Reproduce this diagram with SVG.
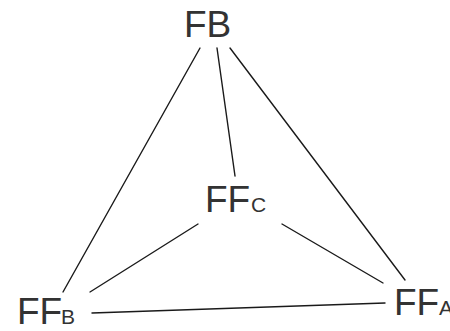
<svg xmlns="http://www.w3.org/2000/svg" width="450" height="331" viewBox="0 0 450 331">
<style>
.lbl{font-family:"Liberation Sans",Arial,sans-serif;font-size:37px;fill:#333}
.sub{font-size:21px}
.edge{stroke:#1a1a1a;stroke-width:1.4;fill:none;stroke-linecap:round}
</style>
<rect width="450" height="331" fill="#fff"/>
<g id="connectors">
<line class="edge" x1="200" y1="48" x2="63" y2="292"/>
<line class="edge" x1="217" y1="48" x2="235" y2="176"/>
<line class="edge" x1="230" y1="48" x2="405" y2="280"/>
<line class="edge" x1="198" y1="224" x2="90" y2="292"/>
<line class="edge" x1="282" y1="224" x2="383" y2="283"/>
<line class="edge" x1="92" y1="313" x2="385" y2="303"/>
</g>
<g id="FB"><text class="lbl" x="184" y="37">FB</text></g>
<g id="FFC"><text class="lbl" x="205" y="212">FF<tspan class="sub" x="251">C</tspan></text></g>
<g id="FFB"><text class="lbl" x="17" y="324">FF<tspan class="sub" x="61">B</tspan></text></g>
<g id="FFA"><text class="lbl" x="394" y="315">FF<tspan class="sub" x="439">A</tspan></text></g>
</svg>
